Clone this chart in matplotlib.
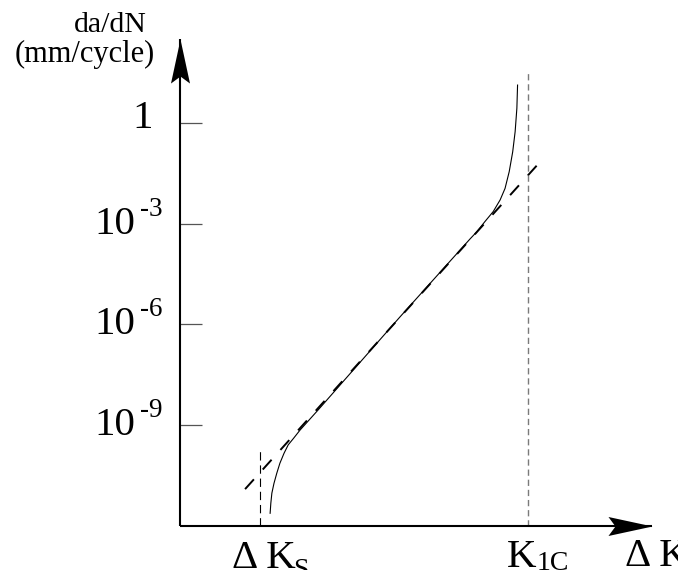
import numpy as np
import matplotlib.pyplot as plt
from matplotlib.path import Path

plt.rcParams['font.family'] = ['Liberation Serif', 'DejaVu Serif']
plt.rcParams['lines.scale_dashes'] = False

# ---- data (schematic crack growth, x in arbitrary dK units, y = log10 da/dN) ----
dk_curve = [2.59, 2.61, 2.64, 2.70, 2.78, 2.87, 2.99, 3.11, 3.26, 3.45, 3.97,
            6.32, 8.33, 8.53, 8.76, 9.00, 9.20, 9.34, 9.46, 9.56, 9.63, 9.68, 9.70]
log_rate_curve = [-11.63, -11.33, -11.03, -10.74, -10.44, -10.14, -9.84, -9.59, -9.40, -9.15, -8.55,
                  -5.78, -3.46, -3.24, -2.94, -2.64, -2.29, -1.95, -1.45, -0.86, -0.26, 0.44, 1.13]

paris_dk = [1.87, 10.32]
paris_log_rate = [-10.91, -1.19]

dk_threshold = 2.30
k_1c = 10.0
threshold_top = -9.68
k1c_top = 1.49

axis_origin = (0.0, -12.0)
x_axis_end = 13.56
y_axis_end = 2.50

tick_values = [1, 1e-3, 1e-6, 1e-9]
tick_base = ['1', '10', '10', '10']
tick_exp = ['', '-3', '-6', '-9']

# ---- figure ----
fig = plt.figure(figsize=(6.78, 5.70), dpi=100)
ax = fig.add_axes([0, 0, 1, 1])
ax.set_yscale('log')
ax.set_xlim(-5.172, 14.310)
ax.set_ylim(10 ** -13.32, 10 ** 3.665)
for s in ax.spines.values():
    s.set_visible(False)
ax.spines['left'].set_position(('data', 0))

# curve + Paris law line
rate_curve = 10.0 ** np.array(log_rate_curve)
ax.plot(dk_curve, rate_curve, color='black', lw=0.8)
ax.plot(paris_dk, 10.0 ** np.array(paris_log_rate), color='black', lw=1.4,
        linestyle=(0, (9.5, 9.5)))

# threshold and fracture toughness markers
x0, y0 = axis_origin[0], 10.0 ** axis_origin[1]
ax.plot([dk_threshold, dk_threshold], [y0, 10.0 ** threshold_top], color='black', lw=0.8,
        linestyle=(0, (6, 3.5)))
ax.plot([k_1c, k_1c], [y0, 10.0 ** k1c_top], color='#7a7a7a', lw=1.0,
        linestyle=(0, (4.5, 2.8)))

# axes with arrow heads
ax.plot([x0, x_axis_end], [y0, y0], color='black', lw=1.5, solid_capstyle='butt')
ax.plot([x0, x0], [y0, 10.0 ** y_axis_end], color='black', lw=1.5, solid_capstyle='butt')
codes = [Path.MOVETO, Path.LINETO, Path.LINETO, Path.LINETO, Path.CLOSEPOLY]
head_x = Path([(0, 0), (-44, 9.5), (-37, 0), (-44, -9.5), (0, 0)], codes)
head_y = Path([(0, 0), (-9.5, -44), (0, -37), (9.5, -44), (0, 0)], codes)
ax.plot([x_axis_end], [y0], marker=head_x, ms=63.4, mew=0, color='black')
ax.plot([x0], [10.0 ** y_axis_end], marker=head_y, ms=63.4, mew=0, color='black')

# y ticks
ax.set_xticks([])
ax.set_yticks(tick_values)
ax.set_yticklabels([''] * len(tick_values))
ax.minorticks_off()
ax.tick_params(axis='y', direction='in', length=15.8, width=0.9, color='#555555')

for val, base, ex in zip(tick_values, tick_base, tick_exp):
    if ex == '':
        ax.annotate(base, (0, val), xytext=(-27, -5), textcoords='offset pixels',
                    ha='right', va='baseline', fontsize=29.5)
    else:
        ax.annotate(base, (0, val), xytext=(-45, -10), textcoords='offset pixels',
                    ha='right', va='baseline', fontsize=29.5)
        ax.annotate(ex, (0, val), xytext=(-40, 8), textcoords='offset pixels',
                    ha='left', va='baseline', fontsize=19.5)

# axis titles
ax.annotate('da/dN', (x0, 10.0 ** y_axis_end), xytext=(-33, 7), textcoords='offset pixels',
            ha='right', va='baseline', fontsize=21.5)
ax.annotate('(mm/cycle)', (x0, 10.0 ** y_axis_end), xytext=(-25, -23), textcoords='offset pixels',
            ha='right', va='baseline', fontsize=22)

ax.annotate('\u0394 K', (dk_threshold, y0), xytext=(-28, -42), textcoords='offset pixels',
            ha='left', va='baseline', fontsize=29.5)
ax.annotate('S', (dk_threshold, y0), xytext=(33, -51), textcoords='offset pixels',
            ha='left', va='baseline', fontsize=20)
ax.annotate('K', (k_1c, y0), xytext=(-21, -41), textcoords='offset pixels',
            ha='left', va='baseline', fontsize=29.5)
ax.annotate('1C', (k_1c, y0), xytext=(9, -44), textcoords='offset pixels',
            ha='left', va='baseline', fontsize=20)
ax.annotate('\u0394 K', (x_axis_end, y0), xytext=(-27, -40), textcoords='offset pixels',
            ha='left', va='baseline', fontsize=29.5)

fig.savefig('out.png', dpi=100)
